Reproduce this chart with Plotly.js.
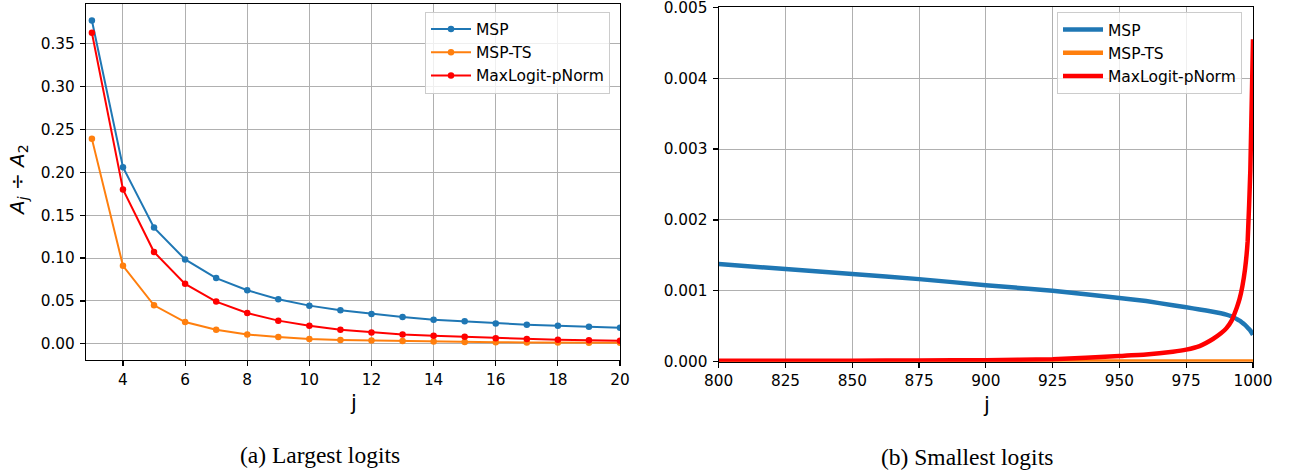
<!DOCTYPE html>
<html>
<head>
<meta charset="utf-8">
<script src="https://cdn.plot.ly/plotly-3.0.1.min.js"></script>
<style>html,body{margin:0;padding:0;background:#fff}#chart{width:1293px;height:472px}</style>
</head>
<body>
<div id="chart"></div>
<script>
// ---- Left panel: largest logits ----
const leftJ = [3, 4, 5, 6, 7, 8, 9, 10, 11, 12, 13, 14, 15, 16, 17, 18, 19, 20];
const leftMSP = [0.377, 0.206, 0.1355, 0.0984, 0.0766, 0.0625, 0.052, 0.0445, 0.039, 0.0348, 0.0313, 0.0281, 0.0262, 0.0238, 0.0223, 0.0211, 0.0199, 0.0188];
const leftMSPTS = [0.239, 0.091, 0.0449, 0.0254, 0.0164, 0.0109, 0.0078, 0.0057, 0.0045, 0.0038, 0.0032, 0.0027, 0.0022, 0.0018, 0.0016, 0.0015, 0.0013, 0.0012];
const leftMaxLogit = [0.3628, 0.180, 0.107, 0.0699, 0.0492, 0.0359, 0.027, 0.0211, 0.0164, 0.0133, 0.0109, 0.0094, 0.0082, 0.0066, 0.0055, 0.0047, 0.0040, 0.0035];

// ---- Right panel: smallest logits ----
const rightJ = [800, 825, 850, 875, 900, 925, 950, 960, 970, 975, 980, 985, 988, 990, 992, 993, 994, 995, 996, 997, 998, 999, 1000];
const rightMSP = [0.001377, 0.001307, 0.001236, 0.001165, 0.00108, 0.00100, 0.00090, 0.000855, 0.000797, 0.000768, 0.000737, 0.000705, 0.000683, 0.000665, 0.00064, 0.000622, 0.0006, 0.000578, 0.00055, 0.00052, 0.00048, 0.00044, 0.00038];
const rightMSPTS = [0.000002, 0.000002, 0.000002, 0.000002, 0.000002, 0.000002, 0.000002, 0.000002, 0.000002, 0.000002, 0.000002, 0.000002, 0.000002, 0.000002, 0.000002, 0.000002, 0.000002, 0.000002, 0.000002, 0.000002, 0.000002, 0.000002, 0.000003];
const rightMaxLogit = [0.000012, 0.000013, 0.000015, 0.000018, 0.000022, 0.000035, 0.00008, 0.0001, 0.00014, 0.00017, 0.00022, 0.00032, 0.0004, 0.00047, 0.00058, 0.00067, 0.00077, 0.00089, 0.00106, 0.0013, 0.0017, 0.0027, 0.00455];

const seriesNames = ['MSP', 'MSP-TS', 'MaxLogit-pNorm'];
const colors = ['#1f77b4', '#ff7f0e', '#ff0000'];

const W = 1293, H = 472;
const px = v => v / W;
const py = v => 1 - v / H;

const leftY = [leftMSP, leftMSPTS, leftMaxLogit];
const rightY = [rightMSP, rightMSPTS, rightMaxLogit];

const traces = [];
leftY.forEach((ys, i) => traces.push({
  x: leftJ, y: ys, name: seriesNames[i], type: 'scatter', mode: 'lines+markers',
  line: {color: colors[i], width: 2}, marker: {color: colors[i], size: 6.5},
  xaxis: 'x', yaxis: 'y', legend: 'legend'
}));
rightY.forEach((ys, i) => traces.push({
  x: rightJ, y: ys, name: seriesNames[i], type: 'scatter', mode: 'lines',
  line: {color: colors[i], width: 4.5, shape: 'spline', smoothing: 0.4},
  xaxis: 'x2', yaxis: 'y2', legend: 'legend2'
}));

const tickFont = {family: 'DejaVu Sans', size: 15.3, color: '#000'};
const axBase = {
  showgrid: true, gridcolor: '#b0b0b0', gridwidth: 1,
  zeroline: false, showline: true, linecolor: '#000', linewidth: 1.2, mirror: true,
  ticks: 'outside', ticklen: 5, tickcolor: '#000', tickwidth: 1.2,
  tickfont: tickFont, ticklabeloverflow: 'allow'
};

const legendBase = {
  xanchor: 'left', yanchor: 'top',
  bgcolor: 'rgba(255,255,255,0.8)', bordercolor: '#cccccc', borderwidth: 1,
  font: {family: 'DejaVu Sans', size: 15.5, color: '#000'},
  tracegroupgap: 0, itemwidth: 40
};

const layout = {
  width: W, height: H, autosize: false,
  margin: {l: 0, r: 0, t: 0, b: 0},
  paper_bgcolor: '#fff', plot_bgcolor: '#fff',
  showlegend: true,
  xaxis: Object.assign({}, axBase, {domain: [px(86), px(620)], range: [2.81, 20], dtick: 2, tick0: 0, anchor: 'y', ticklabelstandoff: 0}),
  yaxis: Object.assign({}, axBase, {domain: [py(360), py(4)], range: [-0.0189, 0.3963], dtick: 0.05, tick0: 0, tickformat: '.2f', anchor: 'x', ticklabelstandoff: 2}),
  xaxis2: Object.assign({}, axBase, {domain: [px(718.7), px(1253)], range: [800, 1000], dtick: 25, tick0: 0, anchor: 'y2', ticklabelstandoff: 0}),
  yaxis2: Object.assign({}, axBase, {domain: [py(361.7), py(7.3)], range: [0, 0.0050001], dtick: 0.001, tick0: 0, tickformat: '.3f', anchor: 'x2', ticklabelstandoff: 2}),
  legend: Object.assign({}, legendBase, {x: px(425), y: py(11.5)}),
  legend2: Object.assign({}, legendBase, {x: px(1057), y: py(12)}),
  annotations: [
    {text: 'j', xref: 'paper', yref: 'paper', x: px(353), y: py(403), showarrow: false,
     font: {family: 'DejaVu Sans', size: 21, color: '#000'}, xanchor: 'center', yanchor: 'middle'},
    {text: 'j', xref: 'paper', yref: 'paper', x: px(986), y: py(405), showarrow: false,
     font: {family: 'DejaVu Sans', size: 21, color: '#000'}, xanchor: 'center', yanchor: 'middle'},
    {text: '<i>A<sub>j</sub></i> ÷ <i>A</i><sub>2</sub>', xref: 'paper', yref: 'paper', x: px(18), y: py(180),
     textangle: -90, showarrow: false, font: {family: 'DejaVu Sans', size: 20, color: '#000'},
     xanchor: 'center', yanchor: 'middle'},
    {text: '(a) Largest logits', xref: 'paper', yref: 'paper', x: px(320), y: py(455), showarrow: false,
     font: {family: 'Liberation Serif', size: 23.5, color: '#000'}, xanchor: 'center', yanchor: 'middle'},
    {text: '(b) Smallest logits', xref: 'paper', yref: 'paper', x: px(967), y: py(457), showarrow: false,
     font: {family: 'Liberation Serif', size: 23.5, color: '#000'}, xanchor: 'center', yanchor: 'middle'}
  ]
};

Plotly.newPlot('chart', traces, layout, {displayModeBar: false, staticPlot: true});
</script>
</body>
</html>
